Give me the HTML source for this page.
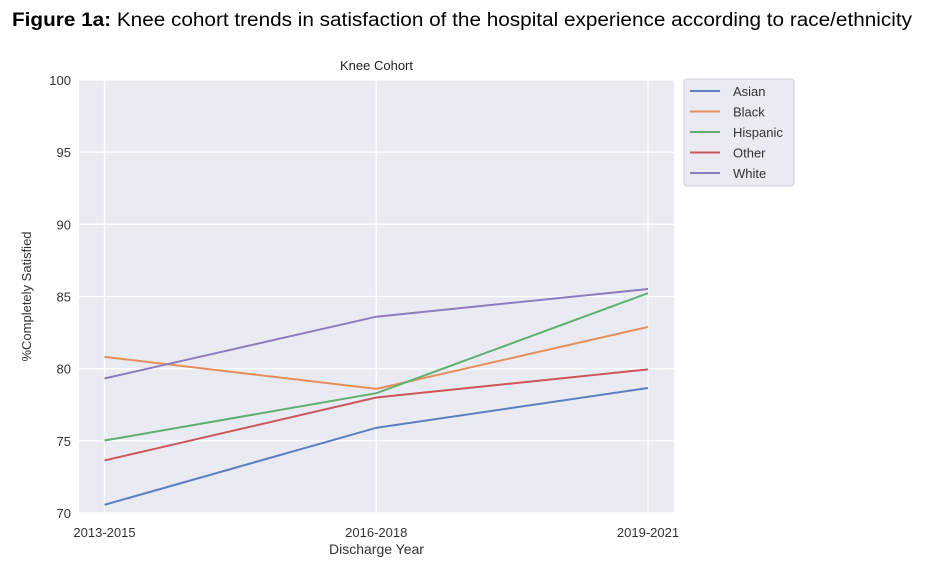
<!DOCTYPE html>
<html><head><meta charset="utf-8"><style>
body{margin:0;background:#fff;width:938px;height:576px;overflow:hidden;font-family:"Liberation Sans",sans-serif}
</style></head><body>
<svg width="938" height="576" xmlns="http://www.w3.org/2000/svg">
<text x="12" y="26" font-size="19" fill="#000" textLength="900" lengthAdjust="spacingAndGlyphs"><tspan font-weight="bold">Figure 1a:</tspan> Knee cohort trends in satisfaction of the hospital experience according to race/ethnicity</text>
<g id="plot"></g>
</svg>
<script>
const categories=["2013-2015","2016-2018","2019-2021"];
const seriesNames=["Asian","Black","Hispanic","Other","White"];
const asian=[70.57,75.9,78.66];
const black=[80.82,78.6,82.89];
const hispanic=[75.02,78.3,85.23];
const other=[73.64,78.0,79.95];
const white=[79.32,83.6,85.52];
const yTicks=[70,75,80,85,90,95,100];
const colors=["#5b7fc0","#e68f5d","#5fb070","#cc575b","#8c7cbc"];
const data=[asian,black,hispanic,other,white];
const L=79,R=674,T=80,B=513;
const x=i=>104.5+i*(648-104.5)/(categories.length-1);
const y=v=>B-(v-70)*(B-T)/30;
const NS="http://www.w3.org/2000/svg";
const g=document.getElementById('plot');
function el(t,a,p){const e=document.createElementNS(NS,t);for(const k in a)e.setAttribute(k,a[k]);(p||g).appendChild(e);return e;}
const bg=el('rect',{x:L,y:T,width:R-L,height:B-T,fill:'#eaeaf2'});


yTicks.forEach(v=>{
 const l=el('line',{x1:L,x2:R,y1:y(v),y2:y(v),stroke:'#fff','stroke-width':1.3});
 
 
 const t=el('text',{x:L-8,y:y(v)+5,'text-anchor':'end','font-size':13,fill:'#333'});
 t.textContent=v;
 
 
});
categories.forEach((c,i)=>{
 const l=el('line',{x1:x(i),x2:x(i),y1:T,y2:B,stroke:'#fff','stroke-width':1.3});
 
 
 const t=el('text',{x:x(i),y:B+24,'text-anchor':'middle','font-size':13,fill:'#333'});
 t.textContent=c;
 
 
});
data.forEach((s,k)=>{
 const p=el('polyline',{points:s.map((v,i)=>x(i)+','+y(v)).join(' '),fill:'none',stroke:colors[k],'stroke-width':2});
 
 
});
const tt=el('text',{x:(L+R)/2,y:T-10,'text-anchor':'middle','font-size':13,fill:'#222'});
tt.textContent='Knee Cohort';


const xt=el('text',{x:(L+R)/2,y:B+41,'text-anchor':'middle','font-size':14,fill:'#333'});
xt.textContent='Discharge Year';


const yt=el('text',{x:0,y:0,transform:`translate(31,${(T+B)/2}) rotate(-90)`,'text-anchor':'middle','font-size':13,fill:'#333'});
yt.textContent='%Completely Satisfied';


const lb=el('rect',{x:684,y:79,width:110,height:107,rx:3,fill:'#eaeaf2',stroke:'#d0d0d8'});


seriesNames.forEach((n,k)=>{
 const yy=91+k*20.5;
 const l=el('line',{x1:690,x2:720,y1:yy,y2:yy,stroke:colors[k],'stroke-width':2});
 
 
 const t=el('text',{x:733,y:yy+5,'font-size':13,fill:'#333'});
 t.textContent=n;
 
 
});
</script>
</body></html>
